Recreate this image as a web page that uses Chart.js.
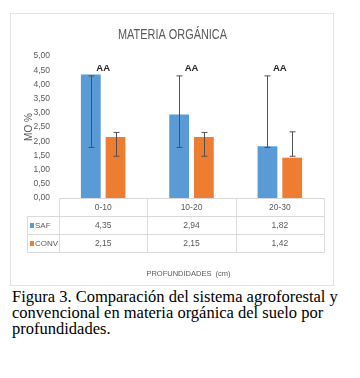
<!DOCTYPE html>
<html>
<head>
<meta charset="utf-8">
<script src="https://cdn.jsdelivr.net/npm/chart.js@4"></script>
<style>
  body { margin: 0; background: #fff; width: 360px; height: 378px; position: relative; }
  #box { position: absolute; left: 10px; top: 13px; width: 324px; height: 273px; border: 1px solid #e3e3e3; box-sizing: border-box; }
  #caption { position: absolute; left: 12px; top: 289px; font-family: 'Liberation Serif', serif; font-size: 16.5px; line-height: 15.8px; color: #000; white-space: nowrap; }
</style>
</head>
<body>
<div id="box"><canvas id="chart"></canvas></div>
<div id="caption">Figura 3. Comparación del sistema agroforestal y<br>convencional en materia orgánica del suelo por<br>profundidades.</div>
<script>
// datos del gráfico
const categories = ['0-10', '10-20', '20-30'];
const safValues = [4.35, 2.94, 1.82];
const convValues = [2.15, 2.15, 1.42];
// barras de error (límite inferior / superior)
const safErrLow = [1.78, 1.78, 1.78];
const safErrHigh = [4.3, 4.3, 4.3];
const convErrLow = [1.47, 1.47, 1.47];
const convErrHigh = [2.31, 2.31, 2.33];
const letters = ['AA', 'AA', 'AA'];
const letterLevel = 4.55;

const gray = '#595959';
const fontFam = "'Liberation Sans', sans-serif";
const fmt = v => v.toFixed(2).replace('.', ',');

// título (texto un poco estrecho, como Calibri)
const narrowTitle = {
    id: 'narrowTitle',
    afterDraw(chart) {
        const ctx = chart.ctx;
        const area = chart.chartArea;
        ctx.save();
        ctx.translate((area.left + area.right) / 2 - 19, 21);
        ctx.scale(0.78, 1);
        ctx.fillStyle = gray;
        ctx.font = '14px ' + fontFam;
        ctx.textAlign = 'center';
        ctx.textBaseline = 'middle';
        ctx.fillText('MATERIA ORGÁNICA', 0, 0);
        ctx.restore();
    }
};

// barras de error
const errorBars = {
    id: 'errorBars',
    afterDatasetsDraw(chart) {
        const ctx = chart.ctx;
        const y = chart.scales.y;
        const lows = [safErrLow, convErrLow];
        const highs = [safErrHigh, convErrHigh];
        ctx.save();
        ctx.strokeStyle = '#505050';
        ctx.lineWidth = 1;
        for (let d = 0; d < 2; d++) {
            chart.getDatasetMeta(d).data.forEach((bar, i) => {
                const x = Math.round(bar.x) + 0.5;
                const y1 = y.getPixelForValue(lows[d][i]);
                const y2 = y.getPixelForValue(highs[d][i]);
                ctx.beginPath();
                ctx.moveTo(x, y1); ctx.lineTo(x, y2);
                ctx.moveTo(x - 3, y1); ctx.lineTo(x + 3, y1);
                ctx.moveTo(x - 3, y2); ctx.lineTo(x + 3, y2);
                ctx.stroke();
            });
        }
        // letras de significancia
        ctx.fillStyle = '#262626';
        ctx.font = 'bold 9.5px ' + fontFam;
        ctx.textAlign = 'center';
        ctx.textBaseline = 'middle';
        letters.forEach((t, i) => {
            ctx.fillText(t, chart.scales.x.getPixelForValue(i), y.getPixelForValue(letterLevel));
        });
        ctx.restore();
    }
};

// tabla de datos bajo el gráfico
const dataTable = {
    id: 'dataTable',
    afterDraw(chart) {
        const ctx = chart.ctx;
        const area = chart.chartArea;
        const x = chart.scales.x;
        const rowH = 18;
        const top = Math.round(area.bottom) + 0.5;
        const left = Math.round(area.left) + 0.5;
        const right = Math.round(area.right) + 0.5;
        const legLeft = 16.5;
        const cols = [left];
        for (let i = 0; i < categories.length - 1; i++) {
            cols.push(Math.round((x.getPixelForValue(i) + x.getPixelForValue(i + 1)) / 2) + 0.5);
        }
        cols.push(right);

        ctx.save();
        ctx.strokeStyle = '#d9d9d9';
        ctx.lineWidth = 1;
        ctx.beginPath();
        ctx.moveTo(left, top); ctx.lineTo(right, top);
        for (let r = 1; r <= 3; r++) {
            ctx.moveTo(legLeft, top + r * rowH); ctx.lineTo(right, top + r * rowH);
        }
        cols.forEach(c => { ctx.moveTo(c, top); ctx.lineTo(c, top + 3 * rowH); });
        ctx.moveTo(legLeft, top + rowH); ctx.lineTo(legLeft, top + 3 * rowH);
        ctx.stroke();

        ctx.fillStyle = gray;
        ctx.font = '8.5px ' + fontFam;
        ctx.textAlign = 'center';
        ctx.textBaseline = 'middle';
        categories.forEach((c, i) => {
            const cx = x.getPixelForValue(i);
            ctx.fillText(c, cx, top + rowH / 2);
            ctx.fillText(fmt(safValues[i]), cx, top + rowH * 1.5);
            ctx.fillText(fmt(convValues[i]), cx, top + rowH * 2.5);
        });

        // leyenda dentro de la tabla
        const series = [['SAF', '#5b9bd5'], ['CONV', '#ed7d31']];
        ctx.textAlign = 'left';
        ctx.font = '8px ' + fontFam;
        series.forEach((s, r) => {
            const cy = top + rowH * (1.5 + r);
            ctx.fillStyle = s[1];
            ctx.fillRect(19, cy - 2.5, 4, 5);
            ctx.fillStyle = gray;
            ctx.fillText(s[0], 24, cy);
        });

        // título del eje X
        ctx.font = '7.5px ' + fontFam;
        ctx.textAlign = 'center';
        ctx.fillText('PROFUNDIDADES  (cm)', (area.left + area.right) / 2 - 3, 260);
        ctx.restore();
    }
};

new Chart(document.getElementById('chart'), {
    type: 'bar',
    data: {
        labels: categories,
        datasets: [
            { label: 'SAF', data: safValues, backgroundColor: '#5b9bd5' },
            { label: 'CONV', data: convValues, backgroundColor: '#ed7d31' }
        ]
    },
    options: {
        responsive: true,
        maintainAspectRatio: false,
        animation: false,
        datasets: {
            bar: { categoryPercentage: 0.56, barPercentage: 0.8 }
        },
        layout: {
            padding: { left: 0, top: 42, right: 9, bottom: 87 }
        },
        plugins: {
            legend: { display: false },
            tooltip: { enabled: false },
            title: { display: false }
        },
        scales: {
            x: { display: false },
            y: {
                min: 0,
                max: 5,
                afterFit: s => { s.width = 48; },
                grid: { display: false, drawTicks: false },
                border: { display: false },
                ticks: {
                    stepSize: 0.5,
                    padding: 9,
                    color: gray,
                    font: { family: fontFam, size: 8.5 },
                    callback: v => fmt(v)
                },
                title: {
                    display: true,
                    text: 'MO %',
                    color: gray,
                    font: { family: fontFam, size: 10 },
                    padding: { top: 12, bottom: 0 }
                }
            }
        }
    },
    plugins: [narrowTitle, errorBars, dataTable]
});
</script>
</body>
</html>
